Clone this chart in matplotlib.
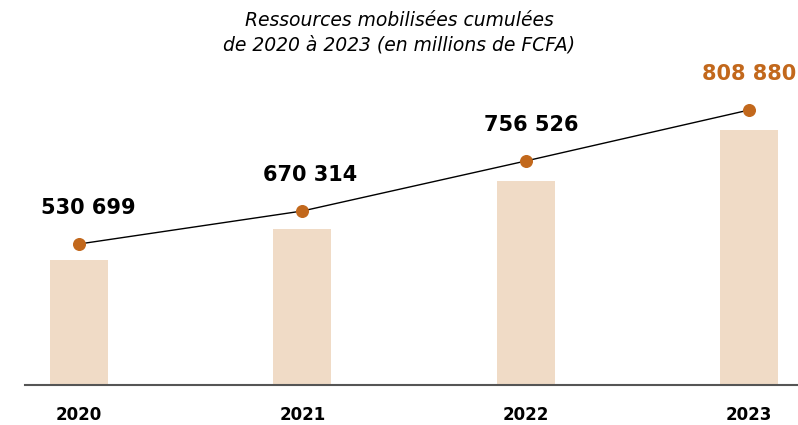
import matplotlib.pyplot as plt

# données
annees = ['2020', '2021', '2022', '2023']
valeurs = [530699, 670314, 756526, 808880]
# hauteurs (unités graphiques, non proportionnelles)
hauteur_barres = [125, 156, 204, 255]
hauteur_points = [141, 174, 224, 275]

orange = '#C2681C'
beige = '#F0DBC6'

fig = plt.figure(figsize=(7.98, 4.25), dpi=100)
ax = fig.add_axes([25 / 798, 40 / 425, 773 / 798, 345 / 425])

x = list(range(len(annees)))
ax.bar(x, hauteur_barres, width=0.26, color=beige, zorder=1)
ax.plot(x, hauteur_points, color='black', linewidth=1, zorder=2)
ax.scatter(x, hauteur_points, s=70, color=orange, zorder=3)

# petit décalage horizontal des étiquettes
decalage = [0.04, 0.035, 0.025, 0.0]
for i, v in enumerate(valeurs):
    txt = f"{v:,}".replace(',', ' ')
    couleur = orange if i == len(valeurs) - 1 else 'black'
    ax.text(i + decalage[i], hauteur_points[i] + 36, txt, ha='center', va='center',
            fontsize=15, fontweight='bold', color=couleur)

ax.set_xlim(-0.242, 3.219)
ax.set_ylim(0, 345)
ax.set_xticks(x)
ax.set_xticklabels(annees, fontsize=12, fontweight='bold')
ax.tick_params(axis='x', length=0, pad=15)
ax.set_yticks([])
for s in ['top', 'right', 'left']:
    ax.spines[s].set_visible(False)
ax.spines['bottom'].set_color('#555555')
ax.spines['bottom'].set_linewidth(1.5)

fig.text(0.5, 1 - 33 / 425, "Ressources mobilisées cumulées\nde 2020 à 2023 (en millions de FCFA)",
         ha='center', va='center', fontsize=13.5, style='italic', linespacing=1.35)

plt.savefig('out.png', dpi=100)
